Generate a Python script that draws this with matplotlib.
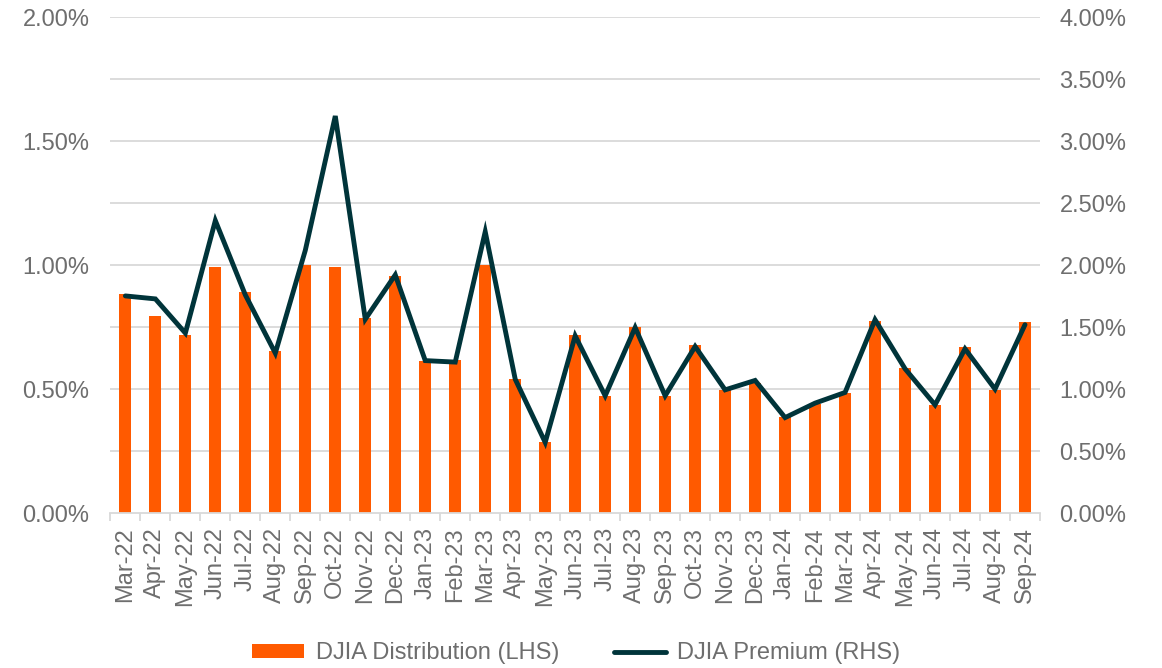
import matplotlib
matplotlib.use("Agg")
import matplotlib.pyplot as plt
from matplotlib.ticker import FuncFormatter, FixedLocator
import numpy as np

plt.rcParams['font.family'] = ['Liberation Sans', 'DejaVu Sans']

months = ["Mar-22", "Apr-22", "May-22", "Jun-22", "Jul-22", "Aug-22", "Sep-22", "Oct-22",
          "Nov-22", "Dec-22", "Jan-23", "Feb-23", "Mar-23", "Apr-23", "May-23", "Jun-23",
          "Jul-23", "Aug-23", "Sep-23", "Oct-23", "Nov-23", "Dec-23", "Jan-24", "Feb-24",
          "Mar-24", "Apr-24", "May-24", "Jun-24", "Jul-24", "Aug-24", "Sep-24"]

distribution = [0.884, 0.793, 0.718, 0.994, 0.892, 0.653, 1.002, 0.992, 0.787, 0.957,
                0.614, 0.618, 1.001, 0.540, 0.285, 0.719, 0.473, 0.752, 0.473, 0.679,
                0.497, 0.525, 0.386, 0.440, 0.486, 0.775, 0.586, 0.437, 0.668, 0.497, 0.769]

premium = [1.752, 1.728, 1.452, 2.360, 1.760, 1.290, 2.120, 3.204, 1.564, 1.922,
           1.230, 1.218, 2.270, 1.080, 0.570, 1.430, 0.946, 1.497, 0.946, 1.344,
           0.994, 1.070, 0.770, 0.887, 0.973, 1.560, 1.164, 0.873, 1.325, 1.000, 1.520]

left_ticks = [0.0, 0.5, 1.0, 1.5, 2.0]
right_ticks = [0.0, 0.5, 1.0, 1.5, 2.0, 2.5, 3.0, 3.5, 4.0]

bar_color = "#FF5A00"
line_color = "#00343A"
text_color = "#6E6E6E"
grid_color = "#D9D9D9"
fs = 17

fig = plt.figure(figsize=(11.62, 6.68), dpi=100)
ax = fig.add_axes([0.095, 0.232, 0.800, 0.742])
ax2 = ax.twinx()

x = np.arange(len(months))
ax.bar(x, distribution, width=0.4, color=bar_color, zorder=2, label="DJIA Distribution (LHS)")
ax2.plot(x, premium, color=line_color, linewidth=3.5, solid_joinstyle='miter',
         solid_capstyle='round', zorder=3, label="DJIA Premium (RHS)")

ax.set_xlim(-0.5, len(months) - 0.5)
ax.set_ylim(0, 2.0)
ax2.set_ylim(0, 4.0)

ax.set_yticks(left_ticks)
ax2.set_yticks(right_ticks)
ax.yaxis.set_major_formatter(FuncFormatter(lambda v, p: f"{v:.2f}%"))
ax2.yaxis.set_major_formatter(FuncFormatter(lambda v, p: f"{v:.2f}%"))

# horizontal gridlines every 0.25% on left (every 0.50% on right)
for v in np.arange(0.25, 2.01, 0.25):
    ax.axhline(v, color=grid_color, linewidth=1.3, zorder=1)

ax.set_xticks(x)
ax.set_xticklabels(months, rotation=90)
ax.xaxis.set_minor_locator(FixedLocator(np.arange(-0.5, len(months), 1.0)))
ax.tick_params(axis='x', which='major', length=0, pad=10, labelsize=fs, labelcolor=text_color)
ax.tick_params(axis='x', which='minor', length=5.5, color=grid_color, width=1.3)
ax.tick_params(axis='y', length=0, labelsize=fs, labelcolor=text_color, pad=15)
ax2.tick_params(axis='y', length=0, labelsize=fs, labelcolor=text_color, pad=14)

for a in (ax, ax2):
    for s in ("top", "left", "right", "bottom"):
        a.spines[s].set_visible(False)
ax.spines["bottom"].set_visible(True)
ax.spines["bottom"].set_color(grid_color)
ax.spines["bottom"].set_linewidth(1.3)
ax.set_zorder(ax2.get_zorder() - 1)
ax.patch.set_visible(True)
ax2.patch.set_visible(False)

h1, l1 = ax.get_legend_handles_labels()
h2, l2 = ax2.get_legend_handles_labels()
leg = fig.legend(h1 + h2, l1 + l2, loc="center", bbox_to_anchor=(0.496, 0.022), ncol=2,
                 frameon=False, fontsize=fs, handlelength=2.2, handleheight=0.55,
                 columnspacing=2.3, handletextpad=0.5)
for t in leg.get_texts():
    t.set_color(text_color)

fig.savefig("out.png", dpi=100)
